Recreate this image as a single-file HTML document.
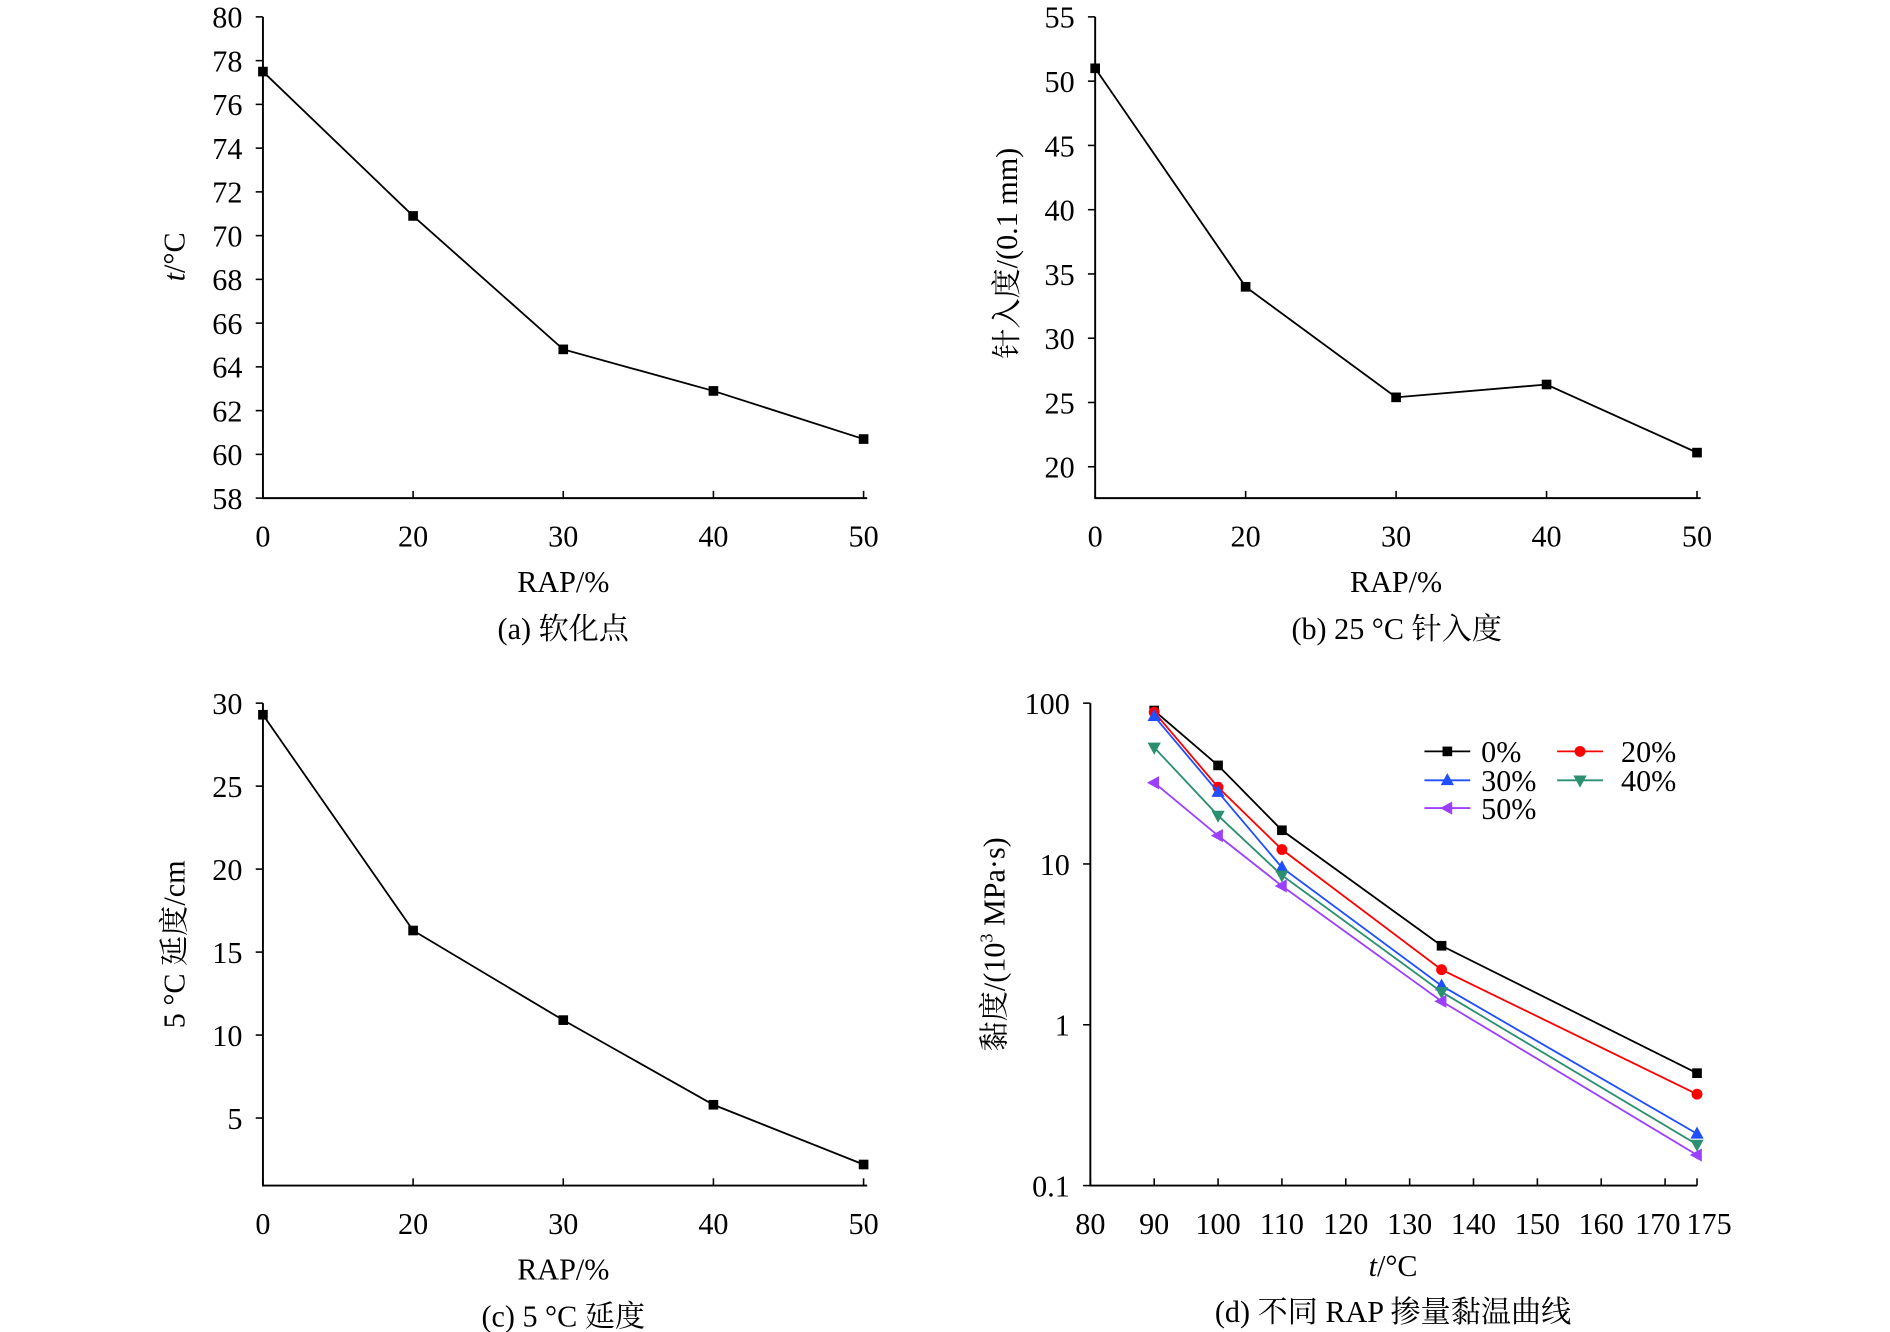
<!DOCTYPE html>
<html><head><meta charset="utf-8"><style>
html,body{margin:0;padding:0;background:#fff}
svg{display:block}
text{font-family:"Liberation Serif","Noto Serif CJK SC","Noto Sans CJK SC",serif;fill:#000}
</style></head><body>
<svg id="fig" width="1890" height="1332" viewBox="0 0 1567 1104.4" preserveAspectRatio="none" xmlns="http://www.w3.org/2000/svg"></svg>
<script>
const rapCats = ["0","20","30","40","50"];
const softValues = [77.5, 70.9, 64.8, 62.9, 60.7];
const softTicks = [58,60,62,64,66,68,70,72,74,76,78,80];
const penValues = [51, 34, 25.4, 26.4, 21.1];
const penTicks = [20,25,30,35,40,45,50,55];
const ductValues = [29.3, 16.3, 10.9, 5.8, 2.2];
const ductTicks = [5,10,15,20,25,30];
const viscTemps = [90, 100, 110, 135, 175];
const viscTickLabels = [80,90,100,110,120,130,140,150,160,170,175];
const viscYTicks = [0.1, 1, 10, 100];
const visc0 = [90, 41, 16.2, 3.1, 0.5];
const visc20 = [88, 30, 12.3, 2.2, 0.37];
const visc30 = [83, 28, 9.5, 1.75, 0.21];
const visc40 = [53, 20, 8.5, 1.6, 0.18];
const visc50 = [32, 15, 7.3, 1.4, 0.155];
const seriesNames = ["0%","20%","30%","40%","50%"];

const NS = "http://www.w3.org/2000/svg";
const svg = document.getElementById('fig');
const FS = 25;
function mk(tag, attrs, parent, txt){
  const e = document.createElementNS(NS, tag);
  for (const k in attrs) e.setAttribute(k, attrs[k]);
  if (txt !== undefined) e.textContent = txt;
  (parent||svg).appendChild(e); return e;
}
function grp(name){
  const g = mk('g', {});
  
  
  return g;
}

function catPanel(opt){
  const g = grp(opt.name);
  const {x0,x1,yTop,yBot,vmin,vmax} = opt;
  const xs = i => x0 + (x1-x0)*i/(rapCats.length-1);
  const ys = v => yBot - (v-vmin)/(vmax-vmin)*(yBot-yTop);
  const ax = mk('path', {d:`M${x0},${yTop} V${yBot} H${x1+3}`, stroke:'#000', 'stroke-width':1.6, fill:'none'}, g);
  
  
  opt.ticks.forEach(t=>{
    const y = ys(t);
    mk('line',{x1:x0-6,x2:x0,y1:y,y2:y,stroke:'#000','stroke-width':1.3},g);
    const tl = mk('text',{x:x0-17,y:y+9,'text-anchor':'end','font-size':FS},g,String(t));
    
    
  });
  rapCats.forEach((c,i)=>{
    const x = xs(i);
    mk('line',{x1:x,x2:x,y1:yBot-6,y2:yBot,stroke:'#000','stroke-width':1.3},g);
    const tl = mk('text',{x:x,y:yBot+40,'text-anchor':'middle','font-size':FS},g,c);
    
    
  });
  const pts = opt.values.map((v,i)=>[xs(i),ys(v)]);
  const ln = mk('polyline',{points:pts.map(p=>p.join(',')).join(' '),fill:'none',stroke:'#000','stroke-width':1.5},g);
  
  
  pts.forEach(p=>{
    const m = mk('rect',{x:p[0]-4,y:p[1]-4,width:8,height:8,fill:'#000'},g);
    
    
  });
  const xl = mk('text',{x:(x0+x1)/2,y:yBot+78,'text-anchor':'middle','font-size':FS},g,'RAP/%');
  
  
  const yl = mk('text',{x:0,y:0,'text-anchor':'middle','font-size':FS,transform:`translate(${opt.ylx},${opt.yly||(yTop+yBot)/2}) rotate(-90)`},g);
  yl.innerHTML = opt.ylabel;
  
  
  const cap = mk('text',{x:opt.capx||(x0+x1)/2,y:yBot+117,'text-anchor':'middle','font-size':FS},g,opt.caption);
  
  
}

catPanel({name:'panel-a-softening-point',x0:218,x1:716,yTop:14,yBot:413,vmin:58,vmax:80,ticks:softTicks,values:softValues,ylx:153,yly:213,ylabel:'<tspan font-style="italic">t</tspan>/°C',caption:'(a) 软化点',capx:467});
catPanel({name:'panel-b-penetration',x0:908,x1:1407,yTop:14,yBot:413,vmin:20-(413-387)/(373/35),vmax:55,ticks:penTicks,values:penValues,ylx:843,yly:210,ylabel:'针入度/(0.1 mm)',caption:'(b) 25 °C 针入度',capx:1158});
catPanel({name:'panel-c-ductility',x0:218,x1:716,yTop:583,yBot:983,vmin:30-(983-583)/(344/25),vmax:30,ticks:ductTicks,values:ductValues,ylx:153,yly:783,ylabel:'5 °C 延度/cm',caption:'(c) 5 °C 延度',capx:467});

(function(){
  const g = grp('panel-d-viscosity');
  const x0=904,x1=1407,yTop=583,yBot=983;
  const xs = t => x0 + (t-80)/(175-80)*(x1-x0);
  const ys = v => yBot - (Math.log10(v)+1)/3*(yBot-yTop);
  const ax = mk('path',{d:`M${x0},${yTop} V${yBot} H${x1}`,stroke:'#000','stroke-width':1.6,fill:'none'},g);
  
  
  viscYTicks.forEach(t=>{
    const y=ys(t);
    mk('line',{x1:x0-6,x2:x0,y1:y,y2:y,stroke:'#000','stroke-width':1.3},g);
    const tl=mk('text',{x:x0-17,y:y+9,'text-anchor':'end','font-size':FS},g,String(t));
    
    
  });
  viscTickLabels.forEach(t=>{
    const x=xs(t);
    mk('line',{x1:x,x2:x,y1:yBot-6,y2:yBot,stroke:'#000','stroke-width':1.3},g);
    const tl=mk('text',{x:x+(t===170?-6:t===175?10:0),y:yBot+40,'text-anchor':'middle','font-size':FS},g,String(t));
    
    
  });
  const series=[visc0,visc20,visc30,visc40,visc50];
  const colors=['#000000','#ff0000','#1f4fff','#2a9070','#9b40ff'];
  function marker(kind,x,y,c,parent){
    let m;
    if(kind===0) m=mk('rect',{x:x-4,y:y-4,width:8,height:8,fill:c},parent);
    else if(kind===1) m=mk('circle',{cx:x,cy:y,r:4.5,fill:c},parent);
    else if(kind===2) m=mk('polygon',{points:`${x},${y-6} ${x-5.5},${y+4} ${x+5.5},${y+4}`,fill:c},parent);
    else if(kind===3) m=mk('polygon',{points:`${x},${y+6} ${x-5.5},${y-4} ${x+5.5},${y-4}`,fill:c},parent);
    else m=mk('polygon',{points:`${x-6},${y} ${x+4},${y-5.5} ${x+4},${y+5.5}`,fill:c},parent);
    
    
  }
  series.forEach((vals,si)=>{
    const pts=vals.map((v,i)=>[xs(viscTemps[i]),ys(v)]);
    const ln=mk('polyline',{points:pts.map(p=>p.join(',')).join(' '),fill:'none',stroke:colors[si],'stroke-width':1.5},g);
    
    
    pts.forEach(p=>marker(si,p[0],p[1],colors[si],g));
  });
  const lg=mk('g',{},g);
  
  
  const lpos=[[1181,623],[1291,623],[1181,647],[1291,647],[1181,670]];
  seriesNames.forEach((n,i)=>{
    const [lx,ly]=lpos[i];
    const e=mk('g',{},lg);
    
    
    mk('line',{x1:lx,x2:lx+38,y1:ly,y2:ly,stroke:colors[i],'stroke-width':1.5},e);
    marker(i,lx+19,ly,colors[i],e);
    mk('text',{x:i%2===0?lx+47:lx+53,y:ly+9,'font-size':FS},e,n);
  });
  const xl=mk('text',{x:1155,y:yBot+75,'text-anchor':'middle','font-size':FS},g);
  xl.innerHTML='<tspan font-style="italic">t</tspan>/°C';
  
  
  const yl=mk('text',{x:0,y:0,'text-anchor':'middle','font-size':FS,transform:`translate(${833},${yTop+200}) rotate(-90)`},g);
  yl.innerHTML='黏度/(10<tspan font-size="15" dy="-10">3</tspan><tspan dy="10"> MPa·s)</tspan>';
  
  
  const cap=mk('text',{x:1155,y:yBot+113,'text-anchor':'middle','font-size':FS},g,'(d) 不同 RAP 掺量黏温曲线');
  
  
})();
</script>
</body></html>
